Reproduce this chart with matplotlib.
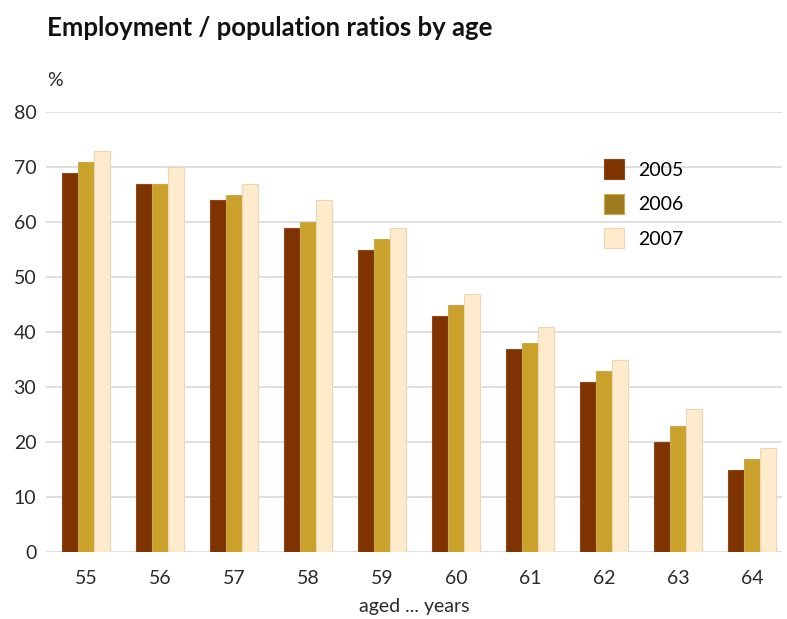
import matplotlib
matplotlib.use("Agg")
import matplotlib.pyplot as plt
from matplotlib.patches import Patch
import numpy as np

plt.rcParams['font.family'] = ['Lato', 'DejaVu Sans']

ages = ["55", "56", "57", "58", "59", "60", "61", "62", "63", "64"]
years = ["2005", "2006", "2007"]
v2005 = [69, 67, 64, 59, 55, 43, 37, 31, 20, 15]
v2006 = [71, 67, 65, 60, 57, 45, 38, 33, 23, 17]
v2007 = [73, 70, 67, 64, 59, 47, 41, 35, 26, 19]
series = [v2005, v2006, v2007]
colors = ["#7F3300", "#C9A12B", "#FDEBCB"]
edges = ["#8a4a20", "#c9a850", "#ead6b4"]
legend_colors = ["#7F3300", "#9E7C1F", "#FDEBCB"]

fig = plt.figure(figsize=(7.87, 6.19), dpi=100)
ax = fig.add_axes([0.0585, 0.1082, 0.935, 0.7108])

x = np.arange(len(ages))
w = 0.216
for i, (vals, c, e) in enumerate(zip(series, colors, edges)):
    ax.bar(x + (i - 1) * w, vals, width=w, color=c, edgecolor=e, linewidth=0.8, zorder=3)

ax.set_xlim(-0.54, 9.4)
ax.set_ylim(0, 80)
ax.set_yticks(range(0, 81, 10))
ax.yaxis.grid(True, color="#dcdcdc", linewidth=1.3, zorder=0)
ax.set_axisbelow(True)
for s in ax.spines.values():
    s.set_visible(False)
ax.tick_params(axis='both', length=0, labelsize=14, colors="#2a2a2a")
ax.tick_params(axis='y', pad=7)
ax.tick_params(axis='x', pad=13)
ax.set_xticks(x)
ax.set_xticklabels(ages)
ax.set_xlabel("aged ... years", fontsize=14, color="#2a2a2a", labelpad=8)

fig.text(47/787, 1 - 28/619, "Employment / population ratios by age", fontsize=18.5,
         fontweight='bold', va='center', ha='left', color="#111111")
fig.text(47/787, 1 - 80/619, "%", fontsize=14, va='center', ha='left', color="#2a2a2a")

handles = [Patch(facecolor=c, edgecolor=e, linewidth=0.8) for c, e in zip(legend_colors, edges)]
leg = ax.legend(handles, years, loc='upper left', bbox_to_anchor=(0.735, 0.932),
                frameon=False, fontsize=14, handlelength=1.0, handleheight=1.2,
                labelspacing=0.75, handletextpad=0.75)

fig.savefig("out.png", dpi=100)
